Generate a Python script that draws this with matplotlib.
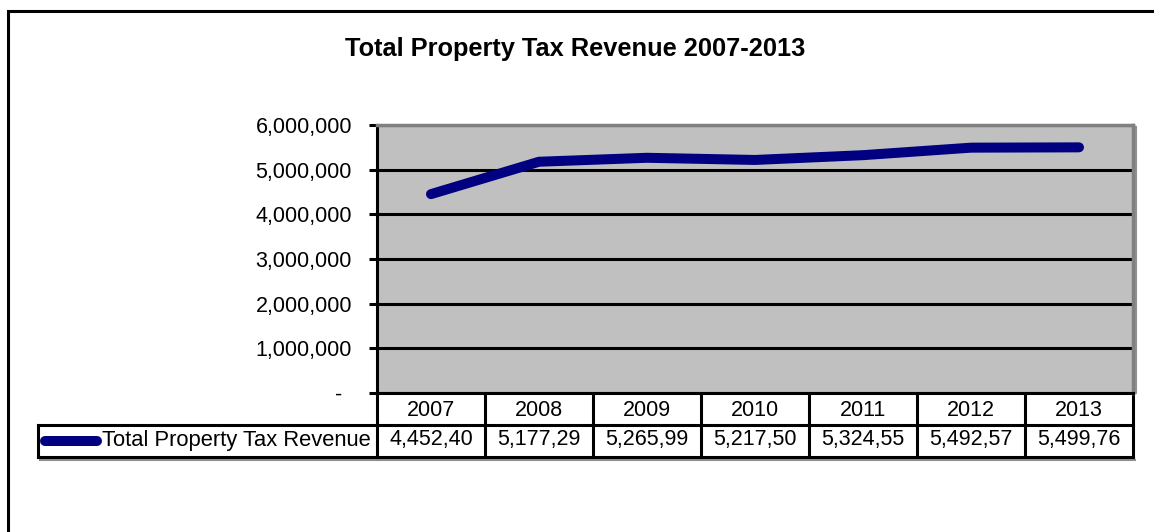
import matplotlib
matplotlib.use('Agg')
import matplotlib.pyplot as plt
from matplotlib.transforms import blended_transform_factory, ScaledTranslation

years = ['2007', '2008', '2009', '2010', '2011', '2012', '2013']
revenue = [4452400, 5177290, 5265990, 5217500, 5324550, 5492570, 5499760]
series_name = 'Total Property Tax Revenue'
y_ticks = [0, 1000000, 2000000, 3000000, 4000000, 5000000, 6000000]
y_labels = ['-', '1,000,000', '2,000,000', '3,000,000', '4,000,000', '5,000,000', '6,000,000']
title = 'Total Property Tax Revenue 2007-2013'

plt.rcParams['font.family'] = ['Liberation Sans', 'DejaVu Sans']

W, H = 1154, 532
FS = 15.5
fig = plt.figure(figsize=(W / 100, H / 100), dpi=100)
fig.patch.set_facecolor('white')


def fy(y):
    # pixel rows counted from the top
    return H - y


# full-size overlay in pixel units for frame, title and data table
ov = fig.add_axes([0, 0, 1, 1])
ov.set_xlim(0, W)
ov.set_ylim(0, H)
ov.axis('off')

# plot area
ax = fig.add_axes([377 / W, 1 - 393 / H, 756 / W, 268 / H])
ax.set_facecolor('#C0C0C0')
x = list(range(len(years)))
line, = ax.plot(x, revenue, color='#000080', lw=7.2,
                solid_capstyle='round', solid_joinstyle='round', zorder=3)
ax.set_xlim(-0.5, len(years) - 0.5)
ax.set_ylim(0, 6000000)
ax.set_xticks([])
ax.set_yticks(y_ticks, y_labels, fontsize=FS)
ax.tick_params(axis='y', direction='out', length=5.5, width=2.2, pad=12.5, colors='black')
ax.yaxis.grid(True, color='black', lw=2.2)
ax.set_axisbelow(True)
for side in ('left', 'bottom'):
    ax.spines[side].set_color('black')
    ax.spines[side].set_linewidth(2.2)
for side in ('top', 'right'):
    ax.spines[side].set_color('#808080')
    ax.spines[side].set_linewidth(2.5)

# the zero label sits a little left of the others
zero_lbl = ax.get_yticklabels()[0]
zero_lbl.set_transform(zero_lbl.get_transform() + ScaledTranslation(-0.1, 0, fig.dpi_scale_trans))

# outer chart frame (left and top edges)
ov.plot([7.5, 7.5, W], [0, fy(11), fy(11)], color='black', lw=2.2,
        solid_joinstyle='miter')

ov.text(575.5, fy(56), title, ha='center', va='baseline',
        fontsize=18.3, fontweight='bold')

# data table under the x axis
tr = blended_transform_factory(ax.transData, ov.transData)
n = len(years)
pos = ax.get_position()
x_left, x_right = pos.x0 * W, pos.x1 * W

# soft shadow right of the plot area and under the table
ov.plot([x_right + 2.5, x_right + 2.5], [fy(127), fy(393)], color='#909090', lw=1.5)
ov.plot([40, x_right + 2], [fy(459.5), fy(459.5)], color='#909090', lw=1.5)

for i in range(n + 1):
    ov.plot([i - 0.5, i - 0.5], [fy(393), fy(457)], transform=tr,
            color='black', lw=2.2)
for yy in (425, 457):
    ov.plot([-0.5, n - 0.5], [fy(yy), fy(yy)], transform=tr, color='black', lw=2.2)
    ov.plot([38, x_left], [fy(yy), fy(yy)], color='black', lw=2.2)
ov.plot([38, 38], [fy(425), fy(457)], color='black', lw=2.2)

renderer = fig.canvas.get_renderer()
for i, (yr, v) in enumerate(zip(years, revenue)):
    ov.text(i, fy(416), yr, transform=tr, ha='center', va='baseline', fontsize=FS)
    s = f'{v:,}'
    t = ov.text(i, fy(445.5), s, transform=tr, ha='center', va='baseline', fontsize=FS)
    # cut characters that do not fit in the cell
    while t.get_window_extent(renderer).width > 89:
        s = s[:-1]
        t.set_text(s)

# legend key inside the first table cell
ov.plot([45, 97], [fy(441), fy(441)], color=line.get_color(), lw=line.get_linewidth(),
        solid_capstyle='round')
ov.text(102, fy(446), series_name, ha='left', va='baseline', fontsize=15.8)

fig.savefig('out.png', dpi=100)
